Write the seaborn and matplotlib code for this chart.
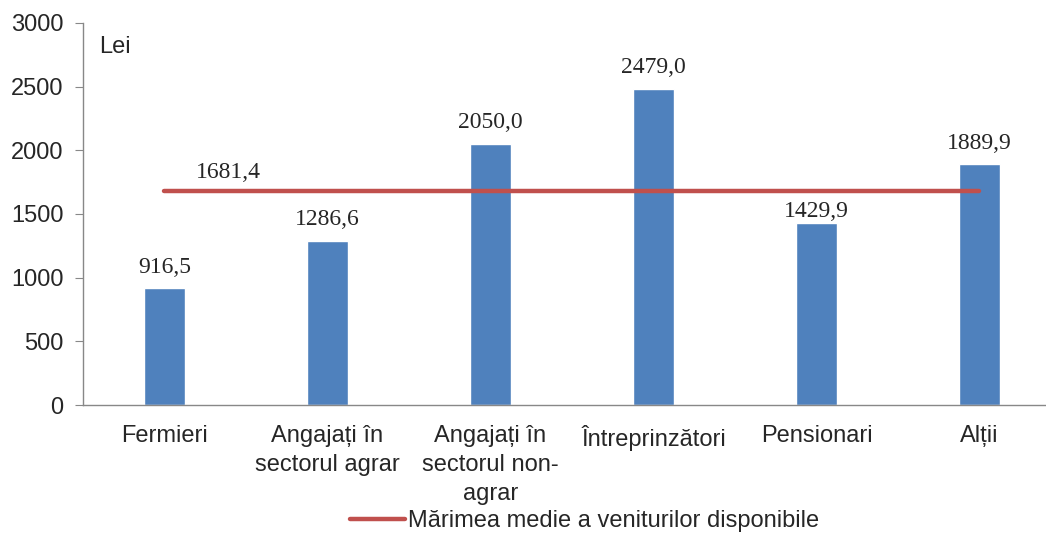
import matplotlib
matplotlib.use("Agg")
import matplotlib.pyplot as plt
import seaborn as sns
import pandas as pd

# data
categories = ["Fermieri", "Angajați în\nsectorul agrar", "Angajați în\nsectorul non-\nagrar",
              "Întreprinzători", "Pensionari", "Alții"]
values = [916.5, 1286.6, 2050.0, 2479.0, 1429.9, 1889.9]
average = 1681.4
legend_label = "Mărimea medie a veniturilor disponibile"

df = pd.DataFrame({"grup": categories, "venit": values})

sns.set_style("white")
plt.rcParams["font.family"] = ["Liberation Sans", "DejaVu Sans"]
serif = ["Liberation Serif", "DejaVu Serif"]

fig = plt.figure(figsize=(10.46, 5.33), dpi=100)
ax = fig.add_axes([0.0793, 0.240, 0.935, 0.717])

sns.barplot(data=df, x="grup", y="venit", color="#4F81BD", width=0.25,
            saturation=1, ax=ax)

# average line across category centres
ax.plot(range(len(categories)), [average] * len(categories), color="#C0504D",
        lw=3.2, solid_capstyle="round", label=legend_label)

# value labels (pushed close to the bar when the label would hit the red line)
for i, v in enumerate(values):
    off = 85
    if average - 300 < v < average:
        off = 5
    ax.text(i, v + off, f"{v:.1f}".replace(".", ","), ha="center", va="bottom",
            fontsize=17, family=serif)
ax.text(0.39, average + 65, f"{average:.1f}".replace(".", ","), ha="center",
        va="bottom", fontsize=17, family=serif)

ax.set_ylim(0, 3000)
ax.set_xlim(-0.5, len(categories) - 0.5)
ax.set_yticks(range(0, 3001, 500))
ax.set_xlabel("")
ax.set_ylabel("")
ax.tick_params(axis="y", labelsize=17, length=6, color="#888888", direction="out",
               left=True, pad=8)
ax.tick_params(axis="x", labelsize=17, length=0, pad=14)
for lab in ax.get_xticklabels():
    lab.set_linespacing(1.42)
    lab.set_va("top")

for s in ["top", "right"]:
    ax.spines[s].set_visible(False)
for s in ["left", "bottom"]:
    ax.spines[s].set_color("#888888")
    ax.spines[s].set_linewidth(1)

ax.text(0.017, 0.965, "Lei", transform=ax.transAxes, fontsize=17, va="top")

ax.legend(loc="center", bbox_to_anchor=(0.513, -0.304), frameon=False,
          fontsize=17, handlelength=2.35, handletextpad=0.12)

fig.savefig("out.png", dpi=100)
